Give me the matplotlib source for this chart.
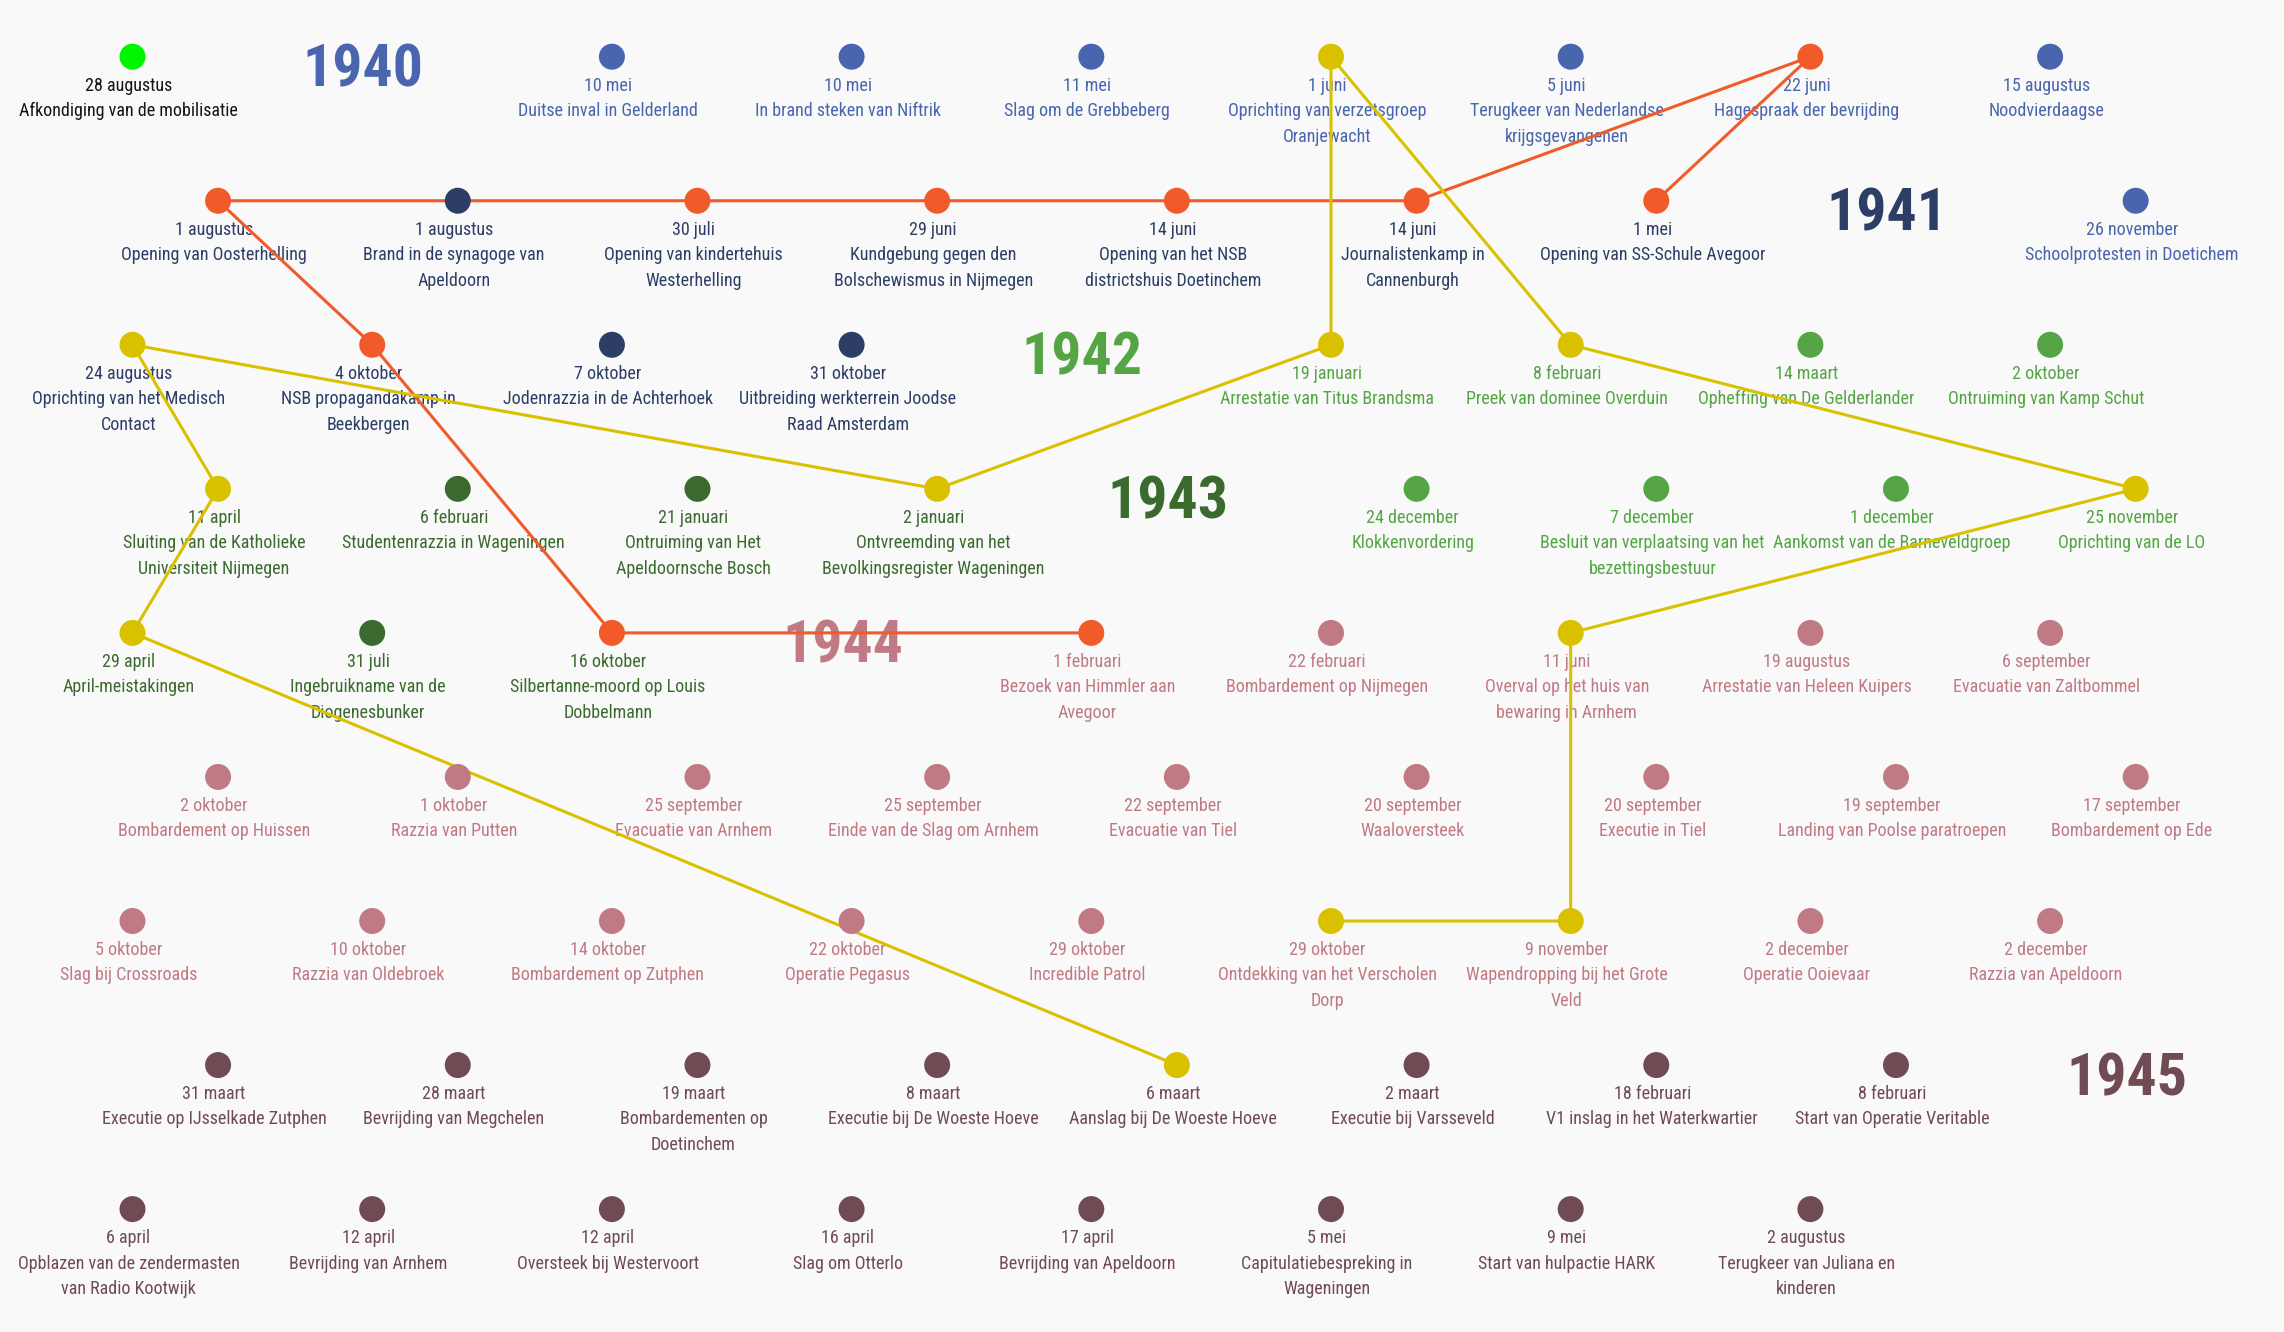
import matplotlib
matplotlib.use('Agg')
import matplotlib.pyplot as plt
from matplotlib import font_manager


# gebeurtenissen in tijdsvolgorde
years = [1939,
         1940, 1940, 1940, 1940, 1940, 1940, 1940, 1940,
         1941, 1941, 1941, 1941, 1941, 1941, 1941, 1941, 1941, 1941, 1941,
         1942, 1942, 1942, 1942, 1942, 1942, 1942, 1942,
         1943, 1943, 1943, 1943, 1943, 1943, 1943,
         1944, 1944, 1944, 1944, 1944, 1944, 1944, 1944, 1944, 1944, 1944,
         1944, 1944, 1944, 1944, 1944, 1944, 1944, 1944, 1944, 1944, 1944, 1944,
         1945, 1945, 1945, 1945, 1945, 1945, 1945, 1945,
         1945, 1945, 1945, 1945, 1945, 1945, 1945, 1945]

dates = ["28 augustus",
         "10 mei", "10 mei", "11 mei", "1 juni", "5 juni", "22 juni", "15 augustus", "26 november",
         "1 mei", "14 juni", "14 juni", "29 juni", "30 juli", "1 augustus", "1 augustus",
         "24 augustus", "4 oktober", "7 oktober", "31 oktober",
         "19 januari", "8 februari", "14 maart", "2 oktober", "25 november", "1 december",
         "7 december", "24 december",
         "2 januari", "21 januari", "6 februari", "11 april", "29 april", "31 juli", "16 oktober",
         "1 februari", "22 februari", "11 juni", "19 augustus", "6 september",
         "17 september", "19 september", "20 september", "20 september", "22 september",
         "25 september", "25 september", "1 oktober", "2 oktober",
         "5 oktober", "10 oktober", "14 oktober", "22 oktober", "29 oktober", "29 oktober",
         "9 november", "2 december", "2 december",
         "8 februari", "18 februari", "2 maart", "6 maart", "8 maart", "19 maart", "28 maart",
         "31 maart",
         "6 april", "12 april", "12 april", "16 april", "17 april", "5 mei", "9 mei", "2 augustus"]

titles = ["Afkondiging van de mobilisatie",
          "Duitse inval in Gelderland",
          "In brand steken van Niftrik",
          "Slag om de Grebbeberg",
          "Oprichting van verzetsgroep\nOranjewacht",
          "Terugkeer van Nederlandse\nkrijgsgevangenen",
          "Hagespraak der bevrijding",
          "Noodvierdaagse",
          "Schoolprotesten in Doetichem",
          "Opening van SS-Schule Avegoor",
          "Journalistenkamp in\nCannenburgh",
          "Opening van het NSB\ndistrictshuis Doetinchem",
          "Kundgebung gegen den\nBolschewismus in Nijmegen",
          "Opening van kindertehuis\nWesterhelling",
          "Brand in de synagoge van\nApeldoorn",
          "Opening van Oosterhelling",
          "Oprichting van het Medisch\nContact",
          "NSB propagandakamp in\nBeekbergen",
          "Jodenrazzia in de Achterhoek",
          "Uitbreiding werkterrein Joodse\nRaad Amsterdam",
          "Arrestatie van Titus Brandsma",
          "Preek van dominee Overduin",
          "Opheffing van De Gelderlander",
          "Ontruiming van Kamp Schut",
          "Oprichting van de LO",
          "Aankomst van de Barneveldgroep",
          "Besluit van verplaatsing van het\nbezettingsbestuur",
          "Klokkenvordering",
          "Ontvreemding van het\nBevolkingsregister Wageningen",
          "Ontruiming van Het\nApeldoornsche Bosch",
          "Studentenrazzia in Wageningen",
          "Sluiting van de Katholieke\nUniversiteit Nijmegen",
          "April-meistakingen",
          "Ingebruikname van de\nDiogenesbunker",
          "Silbertanne-moord op Louis\nDobbelmann",
          "Bezoek van Himmler aan\nAvegoor",
          "Bombardement op Nijmegen",
          "Overval op het huis van\nbewaring in Arnhem",
          "Arrestatie van Heleen Kuipers",
          "Evacuatie van Zaltbommel",
          "Bombardement op Ede",
          "Landing van Poolse paratroepen",
          "Executie in Tiel",
          "Waaloversteek",
          "Evacuatie van Tiel",
          "Einde van de Slag om Arnhem",
          "Evacuatie van Arnhem",
          "Razzia van Putten",
          "Bombardement op Huissen",
          "Slag bij Crossroads",
          "Razzia van Oldebroek",
          "Bombardement op Zutphen",
          "Operatie Pegasus",
          "Incredible Patrol",
          "Ontdekking van het Verscholen\nDorp",
          "Wapendropping bij het Grote\nVeld",
          "Operatie Ooievaar",
          "Razzia van Apeldoorn",
          "Start van Operatie Veritable",
          "V1 inslag in het Waterkwartier",
          "Executie bij Varsseveld",
          "Aanslag bij De Woeste Hoeve",
          "Executie bij De Woeste Hoeve",
          "Bombardementen op\nDoetinchem",
          "Bevrijding van Megchelen",
          "Executie op IJsselkade Zutphen",
          "Opblazen van de zendermasten\nvan Radio Kootwijk",
          "Bevrijding van Arnhem",
          "Oversteek bij Westervoort",
          "Slag om Otterlo",
          "Bevrijding van Apeldoorn",
          "Capitulatiebespreking in\nWageningen",
          "Start van hulpactie HARK",
          "Terugkeer van Juliana en\nkinderen"]

year_headers = [1940, 1941, 1942, 1943, 1944, 1945]

# verhaallijnen die gebeurtenissen verbinden
thread_orange = ["Opening van SS-Schule Avegoor", "Hagespraak der bevrijding",
                 "Journalistenkamp in Cannenburgh",
                 "Opening van het NSB districtshuis Doetinchem",
                 "Kundgebung gegen den Bolschewismus in Nijmegen",
                 "Opening van kindertehuis Westerhelling", "Opening van Oosterhelling",
                 "NSB propagandakamp in Beekbergen",
                 "Silbertanne-moord op Louis Dobbelmann", "Bezoek van Himmler aan Avegoor"]
thread_yellow = ["Ontdekking van het Verscholen Dorp", "Wapendropping bij het Grote Veld",
                 "Overval op het huis van bewaring in Arnhem", "Oprichting van de LO",
                 "Preek van dominee Overduin", "Oprichting van verzetsgroep Oranjewacht",
                 "Arrestatie van Titus Brandsma",
                 "Ontvreemding van het Bevolkingsregister Wageningen",
                 "Oprichting van het Medisch Contact",
                 "Sluiting van de Katholieke Universiteit Nijmegen",
                 "April-meistakingen", "Aanslag bij De Woeste Hoeve"]

year_colors = {1939: '#141414', 1940: '#4865ad', 1941: '#2c3e66', 1942: '#55a546',
               1943: '#3b6a2f', 1944: '#c07a84', 1945: '#704b53'}
dot_colors = dict(year_colors)
dot_colors[1939] = '#00f500'
thread_colors = ['#f15a29', '#dac100']
bg = '#f9f9f9'


def pick_font(cands):
    for c in cands:
        try:
            font_manager.findfont(c, fallback_to_default=False)
            return c
        except ValueError:
            pass
    return 'DejaVu Sans'


font = pick_font(['Liberation Sans Narrow', 'Roboto Condensed', 'DejaVu Sans Condensed',
                  'Liberation Sans'])

# slangvormige indeling: 9 plekken per rij, oneven rijen van rechts naar links
COLS = 9
ODD_SHIFT = 0.357
PX = 0.72  # pixels -> punten bij 100 dpi

items = []
for i, yr in enumerate(years):
    if yr in year_headers and ('year', yr) not in items:
        items.append(('year', yr))
    items.append(('event', i))


def slot(k):
    row, pos = divmod(k, COLS)
    if row % 2:
        return COLS - 1 - pos + ODD_SHIFT, row
    return pos, row


fig = plt.figure(figsize=(22.84, 13.32), dpi=100)
fig.patch.set_facecolor(bg)
ax = fig.add_axes([0, 0, 1, 1])
ax.set_facecolor(bg)
ax.set_xlim(-132.5 / 239.7, (2284 - 132.5) / 239.7)
ax.set_ylim((1332 - 56.7) / 144.05, -56.7 / 144.05)
ax.axis('off')

pos = {}
for k, (kind, v) in enumerate(items):
    x, y = slot(k)
    if kind == 'year':
        ax.annotate(str(v), (x, y), xytext=(-9 * PX, -30 * PX), textcoords='offset points',
                    ha='center', va='baseline', fontsize=43, fontweight='bold',
                    color=year_colors[v], family=font, zorder=2)
    else:
        pos[titles[v].replace('\n', ' ')] = (x, y, v)
        ax.annotate(dates[v] + '\n' + titles[v], (x, y), xytext=(-4 * PX, -20 * PX),
                    textcoords='offset points', ha='center', va='top', fontsize=13,
                    linespacing=1.53, color=year_colors[years[v]], family=font, zorder=2)

# verbindingslijnen
in_thread = {}
for thread, col in zip([thread_orange, thread_yellow], thread_colors):
    xs = [pos[t][0] for t in thread]
    ys = [pos[t][1] for t in thread]
    ax.plot(xs, ys, color=col, lw=2.2, zorder=3, solid_capstyle='round')
    for t in thread:
        in_thread[pos[t][2]] = col

# punten
for key, (x, y, v) in pos.items():
    c = in_thread.get(v, dot_colors[years[v]])
    ax.scatter([x], [y], s=350, color=c, edgecolors='none', zorder=4)

fig.savefig('out.png', dpi=100, facecolor=bg)
